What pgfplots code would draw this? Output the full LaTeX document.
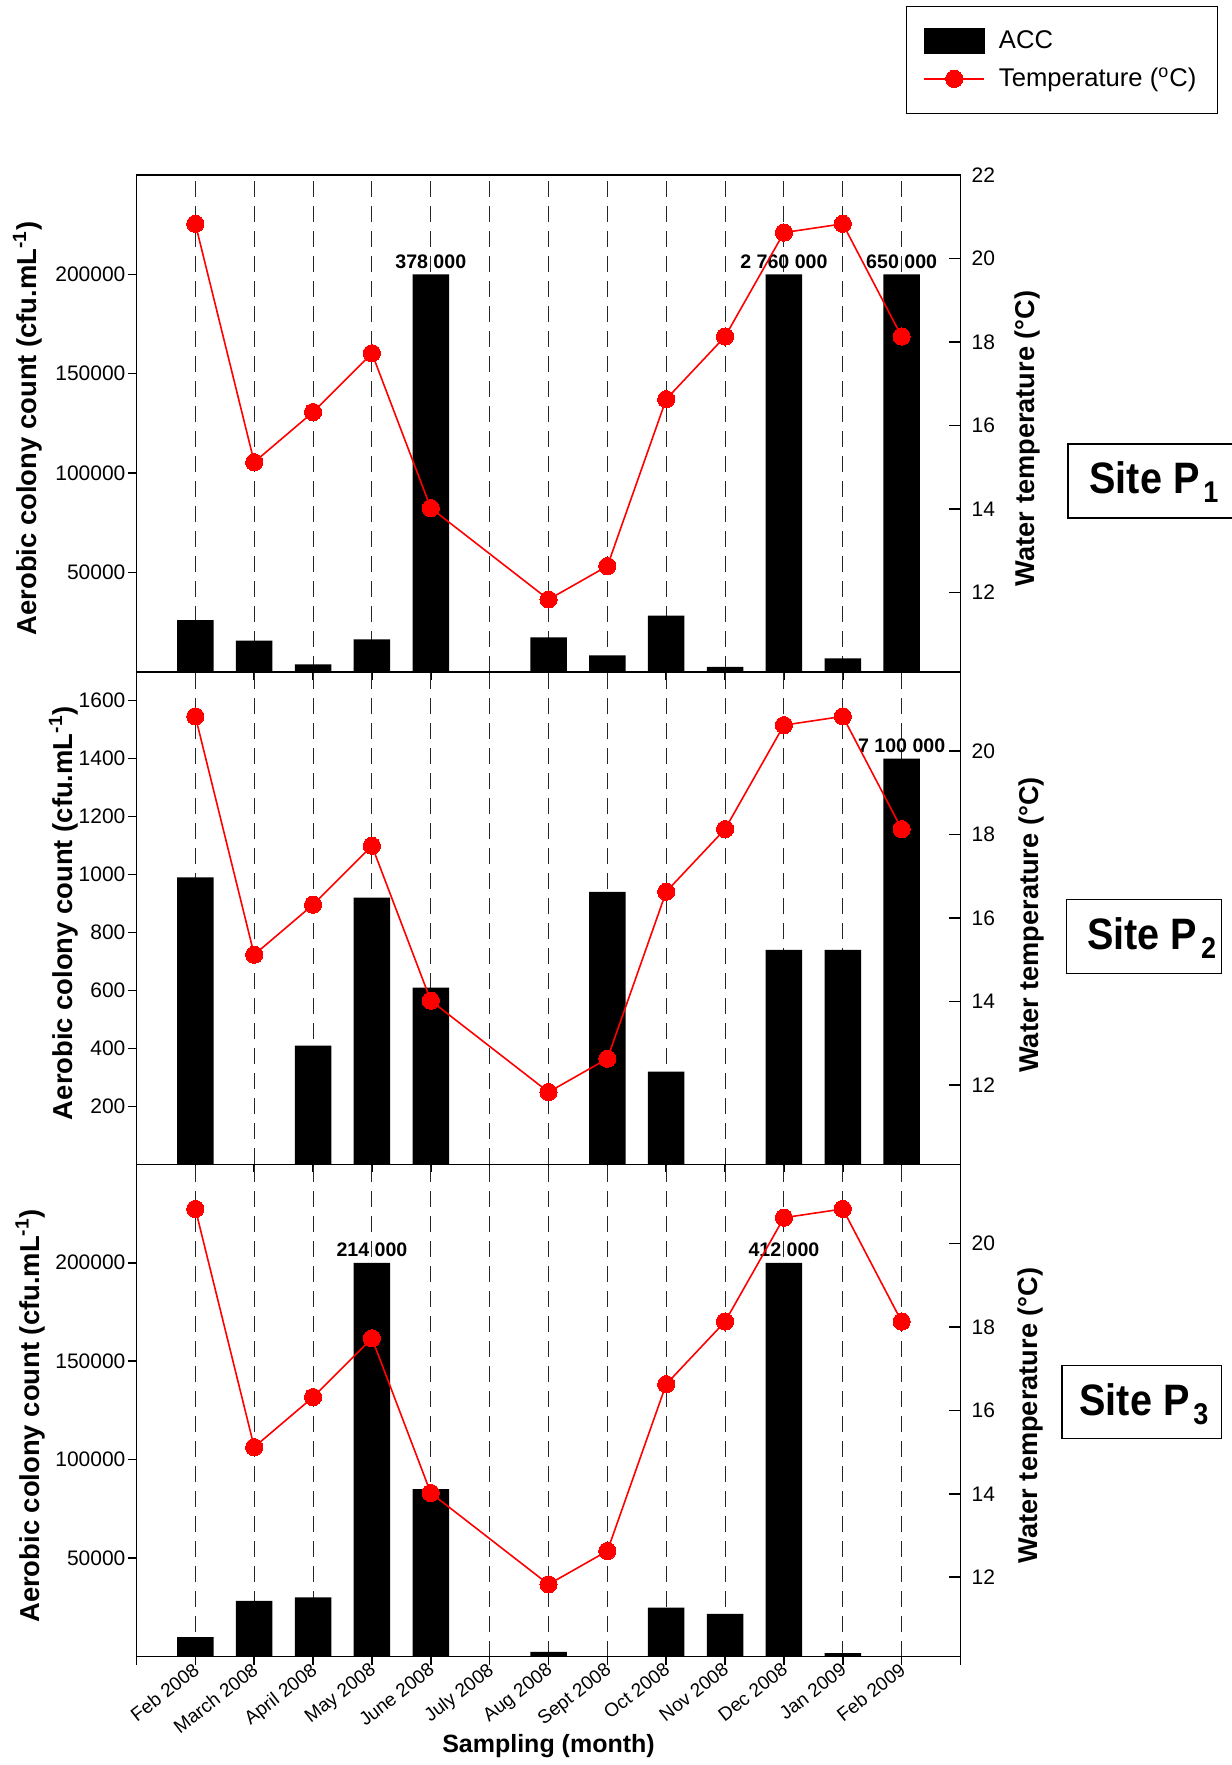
\documentclass[border=0pt]{standalone}
\usepackage{fontspec}
\setmainfont{Liberation Sans}
\newfontfamily\sitefont[FakeStretch=0.9]{Liberation Sans}
\usepackage{pgfplots}
\pgfplotsset{compat=1.18}

\pgfplotsset{
  leftax/.style={
    scale only axis, width=412pt,
    at={(68.25pt,#1)}, anchor=north west,
    xmin=0, xmax=14, ymin=0,
    xtick={0,...,14}, xticklabels={},
    xtick pos=lower, ytick pos=left,
    tick align=outside, major tick length=4pt,
    tick style={black, line width=0.8pt},
    axis line style={black, line width=0.8pt},
    xmajorgrids,
    grid style={black!85, line width=0.5pt, dash pattern=on 8pt off 4.5pt},
    ybar, bar width=0.62,
    scaled y ticks=false,
    /pgf/number format/fixed,
    /pgf/number format/1000 sep={},
    /pgf/number format/assume math mode=true,
    yticklabel style={font=\fontsize{10.5}{12}\selectfont, xshift=2pt},
    ylabel={\bfseries Aerobic colony count (cfu.mL\textsuperscript{-1})},
  },
  rightax/.style={
    scale only axis, width=412pt,
    at={(68.25pt,#1)}, anchor=north west,
    xmin=0, xmax=14, hide x axis,
    ytick pos=right, yticklabel pos=right,
    ymin=10.1,
    tick align=inside, major tick length=6pt,
    tick style={black, line width=0.8pt},
    axis line style={black, line width=0.8pt},
    /pgf/number format/assume math mode=true,
    yticklabel style={font=\fontsize{10.5}{12}\selectfont, xshift=2pt},
    ylabel={\bfseries Water temperature (°C)},
  },
  tempplot/.style={red, line width=0.8pt, mark=*, mark size=4.3pt,
    mark options={fill=red, draw=red, line width=0pt}},
  templeg/.style={legend image code/.code={%
      \draw[mark repeat=2,mark phase=2,##1] plot coordinates {(0pt,0pt) (15pt,0pt) (30pt,0pt)};
      \path (35pt,0pt);}},
  accleg/.style={legend image code/.code={%
      \fill[black] (0pt,-6.25pt) rectangle (30pt,6.25pt);
      \path (35pt,0pt);}},
}
\tikzset{
  annot/.style={anchor=base, inner sep=0pt, yshift=3pt,
    font=\bfseries\fontsize{9.8}{11}\selectfont},
  sitelab/.style={anchor=base west, inner sep=0pt,
    font=\sitefont\bfseries\fontsize{22}{24}\selectfont},
}
\newcommand{\sitesub}[1]{\kern2pt\raisebox{-4.5pt}{\fontsize{15}{17}\selectfont #1}}

\begin{document}
\begin{tikzpicture}
\path[use as bounding box] (0pt,0pt) rectangle (615.5pt,-882.5pt);

% ---------------- Panel P1 ----------------
\begin{axis}[leftax=-87.5pt, height=248.35pt, ymax=250000,
  ytick={50000,100000,150000,200000},
  ylabel style={at={(axis description cs:-0.1213,0.49)}, anchor=base, rotate=0, font=\fontsize{13.7}{16}\selectfont}]
\addplot[fill=black, draw=none] coordinates {
 (1,26000) (2,15600) (3,3700) (4,16300) (5,200000)
 (7,17300) (8,8200) (9,28200) (10,2400) (11,200000) (12,6700) (13,200000)};
\node[annot] at (axis cs:5,200000) {378 000};
\node[annot] at (axis cs:11,200000) {2 760 000};
\node[annot] at (axis cs:13,200000) {650 000};
\end{axis}
\begin{axis}[rightax=-87.5pt, height=248.35pt, ymax=22,
  ytick={12,14,16,18,20,22},
  ylabel style={at={(axis description cs:1.0903,0.47)}, anchor=base, rotate=0, font=\fontsize{13.6}{16}\selectfont},
  legend style={at={(axis description cs:0.9336,1.341)}, anchor=north west,
    draw=black, line width=0.6pt, font=\fontsize{12.8}{15}\selectfont,
    inner xsep=8.5pt, inner ysep=10pt, row sep=4.5pt, legend cell align=left}]
\addlegendimage{accleg}
\addlegendentry{ACC}
\addplot[tempplot, templeg] coordinates {
 (1,20.83) (2,15.12) (3,16.32) (4,17.73) (5,14.02)
 (7,11.83) (8,12.63) (9,16.63) (10,18.13) (11,20.62) (12,20.83) (13,18.13)};
\addlegendentry{Temperature (\textsuperscript{o}C)}
\end{axis}

% ---------------- Panel P2 ----------------
\begin{axis}[leftax=-335.85pt, height=246.3pt, ymax=1700,
  ytick={200,400,...,1600},
  ylabel style={at={(axis description cs:-0.0776,0.51)}, anchor=base, rotate=0, font=\fontsize{13.7}{16}\selectfont}]
\addplot[fill=black, draw=none] coordinates {
 (1,990) (3,410) (4,920) (5,610) (8,940) (9,320) (11,740) (12,740) (13,1400)};
\node[annot] at (axis cs:13,1400) {7 100 000};
\end{axis}
\begin{axis}[rightax=-335.85pt, height=246.3pt, ymax=21.9,
  ytick={12,14,16,18,20},
  ylabel style={at={(axis description cs:1.0944,0.486)}, anchor=base, rotate=0, font=\fontsize{13.6}{16}\selectfont}]
\addplot[tempplot] coordinates {
 (1,20.83) (2,15.12) (3,16.32) (4,17.73) (5,14.02)
 (7,11.83) (8,12.63) (9,16.63) (10,18.13) (11,20.62) (12,20.83) (13,18.13)};
\end{axis}

% ---------------- Panel P3 ----------------
\begin{axis}[leftax=-582.15pt, height=246.1pt, ymax=250000,
  ytick={50000,100000,150000,200000},
  xticklabels={,Feb 2008,March 2008,April 2008,May 2008,June 2008,July 2008,Aug 2008,Sept 2008,Oct 2008,Nov 2008,Dec 2008,Jan 2009,Feb 2009,},
  xticklabel style={xshift=-1.5pt, yshift=3pt, rotate=38, anchor=north east, inner sep=1pt, font=\fontsize{9.5}{11}\selectfont},
  xlabel={\bfseries Sampling (month)},
  xlabel style={at={(axis description cs:0.5,-0.194)}, anchor=base, font=\fontsize{12.5}{15}\selectfont},
  ylabel style={at={(axis description cs:-0.1181,0.489)}, anchor=base, rotate=0, font=\fontsize{13.7}{16}\selectfont}]
\addplot[fill=black, draw=none] coordinates {
 (1,9800) (2,28300) (3,30000) (4,200000) (5,85000)
 (7,2400) (9,24800) (10,21700) (11,200000) (12,1700)};
\node[annot] at (axis cs:4,200000) {214 000};
\node[annot] at (axis cs:11,200000) {412 000};
\end{axis}
\begin{axis}[rightax=-582.15pt, height=246.1pt, ymax=21.9,
  ytick={12,14,16,18,20},
  ylabel style={at={(axis description cs:1.0936,0.49)}, anchor=base, rotate=0, font=\fontsize{13.6}{16}\selectfont}]
\addplot[tempplot] coordinates {
 (1,20.83) (2,15.12) (3,16.32) (4,17.73) (5,14.02)
 (7,11.83) (8,12.63) (9,16.63) (10,18.13) (11,20.62) (12,20.83) (13,18.13)};
\end{axis}

% ---------------- Site labels ----------------
\draw[line width=0.6pt] (620pt,-222pt) -- (534pt,-222pt) -- (534pt,-259pt) -- (620pt,-259pt);
\node[sitelab] at (544.5pt,-246.65pt) {Site P\sitesub{1}};
\draw[line width=0.6pt] (533.35pt,-449.65pt) rectangle (610.85pt,-486.65pt);
\node[sitelab] at (543.35pt,-474.65pt) {Site P\sitesub{2}};
\draw[line width=0.6pt] (531pt,-682.85pt) rectangle (610.85pt,-719.35pt);
\node[sitelab] at (539.5pt,-707.5pt) {Site P\sitesub{3}};
\end{tikzpicture}
\end{document}
